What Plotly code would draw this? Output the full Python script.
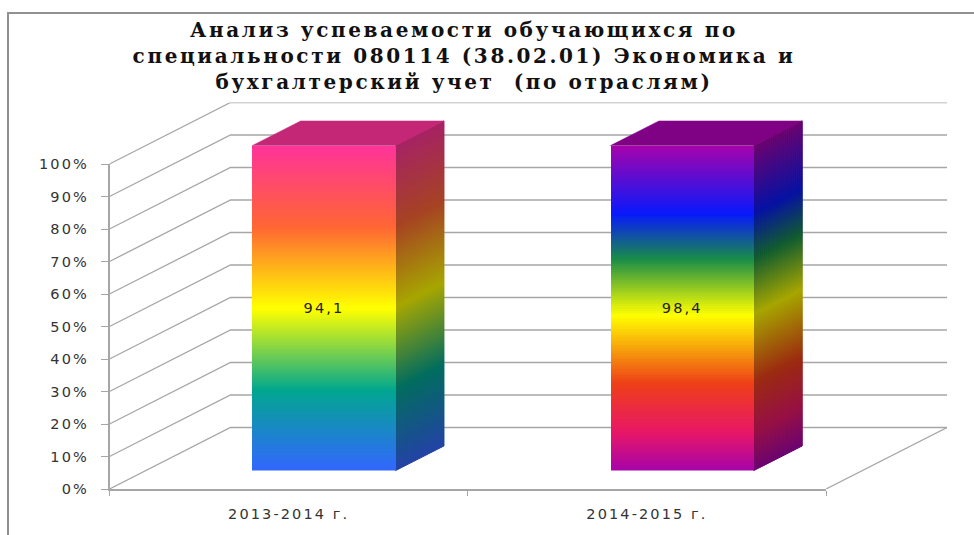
import plotly.graph_objects as go

categories = ["2013-2014 г.", "2014-2015 г."]
values = [94.1, 98.4]
value_labels = ["94,1", "98,4"]
y_ticks = [0, 10, 20, 30, 40, 50, 60, 70, 80, 90, 100]
y_tick_labels = ["0%", "10%", "20%", "30%", "40%", "50%", "60%", "70%", "80%", "90%", "100%"]
title_lines = [
    "Анализ успеваемости обучающихся по",
    "специальности 080114 (38.02.01) Экономика и",
    "бухгалтерский учет  (по отраслям)",
]

# gradient stops per bar, from the top of the bar to the bottom
gradients = [
    [(0.0, (255, 51, 153)), (0.25, (255, 102, 51)), (0.5, (255, 255, 0)), (0.75, (1, 167, 143)), (1.0, (51, 102, 255))],
    [(0.0, (166, 3, 171)), (0.21, (8, 25, 251)), (0.35, (26, 141, 72)), (0.52, (255, 255, 0)), (0.73, (238, 63, 23)), (0.88, (232, 23, 102)), (1.0, (166, 3, 171))],
]

W, H = 974, 535
L, R, B, T = 109.5, 826.0, 489.0, 164.0   # front wall in page pixels
DEPTH_X_PX, DEPTH_Y_PX = 121.0, 61.5      # full depth of the box
BAR_D0, BAR_D1 = 0.3, 0.7                 # depth of the bars inside the box
BAR_WIDTH = 0.4
SLICES = 162
GRID = "#a6a6a6"
TEXT = "#333333"

px_per_cat = (R - L) / 2
px_per_pct = (B - T) / 100
DX = DEPTH_X_PX / px_per_cat
DY = DEPTH_Y_PX / px_per_pct


def colour_at(stops, t, k=1.0):
    for (t0, c0), (t1, c1) in zip(stops, stops[1:]):
        if t <= t1:
            f = (t - t0) / (t1 - t0)
            rgb = [(a + (b - a) * f) * k for a, b in zip(c0, c1)]
            return "rgb(%d,%d,%d)" % tuple(round(v) for v in rgb)
    return "rgb(%d,%d,%d)" % tuple(round(v * k) for v in stops[-1][1])


def proj(x, y, d):
    return x + d * DX, y + d * DY


fig = go.Figure()

# depth layer: walls, floor, side and top faces of the bars
gx, gy = [], []
for t in y_ticks:
    for p in (proj(-0.5, t, 0), proj(-0.5, t, 1), proj(1.5, t, 1)):
        gx.append(p[0]); gy.append(p[1])
    gx.append(None); gy.append(None)
for p in (proj(1.5, 0, 0), proj(1.5, 0, 1)):
    gx.append(p[0]); gy.append(p[1])
fig.add_trace(go.Scatter(x=gx, y=gy, mode="lines", xaxis="x2", yaxis="y2", hoverinfo="skip",
                         line=dict(color=GRID, width=1.3), showlegend=False))

for i, stops in enumerate(gradients):
    xr = i + BAR_WIDTH / 2 - 1 / px_per_cat
    xl = i - BAR_WIDTH / 2 - 1 / px_per_cat
    for s in range(SLICES):
        top = 100 * (1 - s / SLICES)
        bot = 100 * (1 - (s + 1) / SLICES)
        c = colour_at(stops, (s + 0.5) / SLICES, 0.65)
        pts = [proj(xr, top, BAR_D0), proj(xr, top, BAR_D1), proj(xr, bot, BAR_D1), proj(xr, bot, BAR_D0), proj(xr, top, BAR_D0)]
        fig.add_trace(go.Scatter(x=[p[0] for p in pts], y=[p[1] for p in pts], mode="lines", fill="toself",
                                 fillcolor=c, line=dict(color=c, width=1), xaxis="x2", yaxis="y2",
                                 hoverinfo="skip", showlegend=False))
    c = colour_at(stops, 0, 0.77)
    pts = [proj(xl, 100, BAR_D0), proj(xl, 100, BAR_D1), proj(xr, 100, BAR_D1), proj(xr, 100, BAR_D0), proj(xl, 100, BAR_D0)]
    fig.add_trace(go.Scatter(x=[p[0] for p in pts], y=[p[1] for p in pts], mode="lines", fill="toself",
                             fillcolor=c, line=dict(color=c, width=0.5), xaxis="x2", yaxis="y2",
                             hoverinfo="skip", showlegend=False))

# front faces: every value is split into thin stacked slices, normalised to 100 %
bx, by, bc = [], [], []
for i, v in enumerate(values):
    for s in range(SLICES):
        bx.append(i)
        by.append(v / SLICES)
        bc.append(colour_at(gradients[i], 1 - (s + 0.5) / SLICES))
fig.add_trace(go.Bar(x=bx, y=by, width=BAR_WIDTH, marker=dict(color=bc, line=dict(width=0)),
                     xaxis="x3", yaxis="y3", hoverinfo="skip", showlegend=False))
fig.add_trace(go.Scatter(x=[0, 1], y=[49.5, 49.5], mode="text", text=value_labels, textposition="middle center",
                         textfont=dict(family="DejaVu Sans", size=14.5, color="#222222"),
                         xaxis="x3", yaxis="y3", hoverinfo="skip", showlegend=False))

# the category axis carries a trace of its own so that it is drawn
fig.add_trace(go.Scatter(x=categories, y=[0, 0], mode="markers", marker=dict(opacity=0), hoverinfo="skip", showlegend=False))

fx = lambda px: px / W
fy = lambda px: 1 - px / H
d0x, d0y = BAR_D0 * DEPTH_X_PX - 1, BAR_D0 * DEPTH_Y_PX

fig.update_layout(
    width=W, height=H, margin=dict(l=0, r=0, t=0, b=0, autoexpand=False),
    paper_bgcolor="white", plot_bgcolor="rgba(0,0,0,0)",
    barmode="stack", barnorm="percent", bargap=0,
    title=dict(text="<br>".join(title_lines), x=464 / W, xanchor="center", y=fy(37), yanchor="top",
               font=dict(family="DejaVu Serif", size=20, color="#111111", weight="bold")),
    xaxis=dict(domain=[fx(L), fx(R)], range=[-0.5, 1.5], type="category", categoryorder="array", categoryarray=categories,
               tickson="boundaries", ticks="outside", ticklen=5, tickwidth=1.3, tickcolor=GRID, linecolor=GRID, linewidth=1.5,
               showgrid=False, zeroline=False, tickfont=dict(family="DejaVu Sans", size=14.5, color=TEXT), ticklabelstandoff=11),
    yaxis=dict(domain=[fy(B), fy(T)], range=[0, 100], tickvals=y_ticks, ticktext=y_tick_labels, ticks="outside", ticklen=7,
               tickwidth=1.3, tickcolor=GRID, linecolor=GRID, linewidth=1.5, showgrid=False, zeroline=False,
               tickfont=dict(family="DejaVu Sans", size=14.5, color=TEXT), ticklabelstandoff=9),
    xaxis2=dict(domain=[fx(L), fx(R + DEPTH_X_PX)], range=[-0.5, 1.5 + DX], visible=False, fixedrange=True),
    yaxis2=dict(domain=[fy(B), fy(T - DEPTH_Y_PX)], range=[0, 100 + DY], visible=False, fixedrange=True),
    xaxis3=dict(domain=[fx(L + d0x), fx(R + d0x)], range=[-0.5, 1.5], visible=False, fixedrange=True),
    yaxis3=dict(domain=[fy(B - d0y), fy(T - d0y)], range=[0, 100], visible=False, fixedrange=True),
)

post = """
document.body.style.margin = '0';
document.body.style.overflow = 'hidden';
var st = document.createElement('style');
st.textContent = '.gtitle{letter-spacing:2.6px} .xtick text,.ytick text,.textpoint text{letter-spacing:2.1px}';
document.head.appendChild(st);
var fr = document.createElement('div');
fr.style.cssText = 'position:fixed;left:7px;top:12px;right:0;bottom:0;border-left:2px solid #919191;border-top:2px solid #919191;pointer-events:none;z-index:10';
document.body.appendChild(fr);
"""
fig.write_html("out.html", config={"displayModeBar": False}, post_script=post)
